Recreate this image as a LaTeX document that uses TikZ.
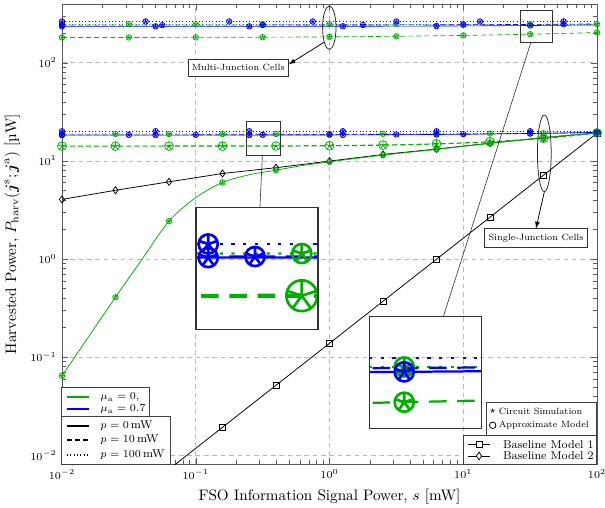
\documentclass[tikz,border=0pt]{standalone}
\usepackage{amsmath}
\usepackage{amssymb}
\usepackage{graphicx}
\usepackage{xcolor}
\usepackage{tikz}
\usetikzlibrary{positioning}
\usetikzlibrary{calc}
\usetikzlibrary{spy}
\usetikzlibrary{shapes.geometric}
\usepackage{pgfplots}
\pgfplotsset{compat=1.18}

\definecolor{mgreen}{RGB}{0,175,0}
\definecolor{mblue}{RGB}{0,0,255}
\newlength{\pxu}
\setlength{\pxu}{0.658pt}
\newcommand{\notefont}[1]{\scalebox{0.85}{\fontsize{7}{8}\selectfont #1}}

% circle with a star inside: approximate model over circuit simulation
\pgfdeclareplotmark{cstar}{%
    \pgfpathcircle{\pgfpointorigin}{\pgfplotmarksize}%
    \pgfusepathqstroke
    \pgfuseplotmark{star}%
}

\tikzset{
    legbox/.style = {draw=black!75, fill=white, line width=0.6pt},
    legtext/.style = {anchor=west, inner sep=0pt, font=\fontsize{7.5}{8.5}\selectfont},
    legline/.style = {line width=0.8pt},
    smalltext/.style = {anchor=west, inner sep=0pt},
    annot/.style = {draw=black!80, fill=white, line width=0.6pt, inner xsep=2.5pt, minimum height=14\pxu},
    cell ellipse/.style = {draw=black!85, ellipse, inner sep=0pt, line width=0.5pt}
}
\pgfplotsset{
    curve/.style = {no marks, line width=0.42pt},
    pzero line/.style = {solid},
    pten line/.style = {dash pattern=on 3.3pt off 2pt},
    phundred line/.style = {dash pattern=on 0.6pt off 1.6pt},
    sim marks/.style = {only marks, mark=cstar, mark size=1.8pt, mark options={solid, line width=0.5pt}}
}

\begin{document}
\begin{tikzpicture}[x=0.658pt, y=0.658pt,
    spy using outlines={rectangle, draw=black!80, line width=0.5pt, magnification=3.5, connect spies}]
    \useasboundingbox (0,0) rectangle (605,508);
    \begin{loglogaxis}[
        at={(62\pxu,44\pxu)}, anchor=south west,
        scale only axis, width=535\pxu, height=460\pxu,
        xmin=1e-2, xmax=1e2, ymin=0.008147, ymax=396.3,
        grid=major, major grid style={gray!55, dash pattern=on 3pt off 2.5pt},
        axis line style={black!65}, tick style={black!65},
        tick label style={font=\fontsize{7.3}{8}\selectfont},
        xlabel={FSO Information Signal Power, $s$ [mW]},
        ylabel={Harvested Power, $P_{\rm harv}(\boldsymbol{j}^{\rm s};\boldsymbol{j}^{\rm a})$ [\textmu W]},
        domain=-2:2, samples=41
    ]
        % baseline models
        \addplot[black, line width=0.5pt, mark=square, mark size=2pt, samples at={-1.2,-0.8,...,2.05}] ({10^x},{10^(-0.859+1.0705*x)});
        \addplot[black, line width=0.5pt, mark=diamond, mark size=2.3pt] table[x expr=10^(\thisrow{ls}), y expr=10^(\thisrow{lp})] {
            ls lp
            -2.0 0.607
            -1.6 0.700
            -1.2 0.786
            -0.8 0.871
            -0.4 0.930
            0.0 0.997
            0.4 1.065
            0.8 1.120
            1.2 1.180
            1.6 1.235
            2.0 1.285
        };

        % single-junction cells
        \addplot[mgreen, smooth, line width=0.5pt, mark=cstar, mark size=1.8pt, mark repeat=2, mark options={solid}] table[x expr=10^(\thisrow{ls}), y expr=10^(\thisrow{lp})] {
            ls lp
            -2.0 -1.19
            -1.8 -0.79
            -1.6 -0.39
            -1.4 0.00
            -1.2 0.386
            -1.0 0.625
            -0.8 0.780
            -0.6 0.858
            -0.4 0.905
            -0.2 0.952
            0.0 0.990
            0.2 1.025
            0.4 1.058
            0.6 1.088
            0.8 1.117
            1.0 1.148
            1.2 1.178
            1.4 1.208
            1.6 1.238
            1.8 1.262
            2.0 1.285
        };
        \addplot[mgreen, curve, pten line, line width=0.8pt] ({10^x},{10^(1.150+0.135*((x+2)/4)^5)});
        \addplot[mgreen, sim marks, mark size=2.9pt, samples at={-2,-1.6,...,2.05}] ({10^x},{10^(1.150+0.135*((x+2)/4)^5)});
        \addplot[mgreen, curve, phundred line] ({10^x},{10^(1.274+0.011*((x+2)/4)^4)});
        \addplot[mgreen, sim marks, samples at={-2,-1.6,...,2.05}] ({10^x},{10^(1.274+0.011*((x+2)/4)^4)});
        \addplot[mblue, curve, pzero line] ({10^x},{10^(1.262+0.028*((x+2)/4)^4)});
        \addplot[mblue, sim marks, samples at={-2,-1.3,...,2.05}] ({10^x},{10^(1.262+0.028*((x+2)/4)^4)});
        \addplot[mblue, curve, pten line] ({10^x},{10^(1.265+0.025*((x+2)/4)^4)});
        \addplot[mblue, sim marks, samples at={-2,-1.5,...,2.05}] ({10^x},{10^(1.265+0.025*((x+2)/4)^4)});
        \addplot[mblue, curve, phundred line] ({10^x},{10^1.302});
        \addplot[mblue, sim marks, samples at={-2,-1.3,...,2.05}] ({10^x},{10^1.302});

        % multi-junction cells
        \addplot[mgreen, curve, pten line] ({10^x},{10^(2.257+0.05*((x+2)/4)^3)});
        \addplot[mgreen, sim marks, samples at={-2,-1.5,...,2.05}] ({10^x},{10^(2.257+0.05*((x+2)/4)^3)});
        \addplot[mgreen, curve, phundred line] ({10^x},{10^2.393});
        \addplot[mgreen, sim marks, samples at={-2,-1.5,...,2.05}] ({10^x},{10^2.393});
        \addplot[mblue, curve, pzero line] ({10^x},{10^(2.370+0.015*((x+2)/4)^4)});
        \addplot[mblue, sim marks, samples at={-2,-1.3,...,2.05}] ({10^x},{10^(2.370+0.015*((x+2)/4)^4)});
        \addplot[mblue, curve, pten line] ({10^x},{10^(2.383+0.012*((x+2)/4)^4)});
        \addplot[mblue, sim marks, samples at={-2,-1.25,...,2.05}] ({10^x},{10^(2.383+0.012*((x+2)/4)^4)});
        \addplot[mblue, curve, phundred line] ({10^x},{10^2.420});
        \addplot[mblue, sim marks, samples at={-2,-1.375,...,2.05}] ({10^x},{10^2.420});
    \end{loglogaxis}

    % cell annotations
    \node[annot] (mjlbl) at (238.2,440.2) {\notefont{Multi-Junction Cells}};
    \node[cell ellipse, minimum width=13.4\pxu, minimum height=43.4\pxu] (mjell) at (329.3,480.3) {};
    \draw[-latex, line width=0.5pt] (mjell.250) -- ([yshift=3.5\pxu]mjlbl.east);
    \node[annot] (sjlbl) at (536,270) {\notefont{Single-Junction Cells}};
    \node[cell ellipse, minimum width=13.8\pxu, minimum height=76.7\pxu] (sjell) at (544.3,354.7) {};
    \draw[-latex, line width=0.5pt] (sjell.south) -- (sjlbl.north);

    % legends
    \draw[legbox] (61.7,91.3) rectangle (149.3,120.3);
    \path[fill=mgreen] (67,109.8) rectangle (89,111.6);
    \node[legtext] (muzero) at (100,110.7) {$\mu_{\rm a} = 0,$};
    \path[fill=mblue] (67,97.8) rectangle (89,99.6);
    \node[legtext] (museven) at (100,98.7) {$\mu_{\rm a} = 0.7$};

    \draw[legbox] (61.7,44) rectangle (170,91.3);
    \draw[black, legline] (67,82) -- (89,82);
    \node[legtext] (pzero) at (100,82) {$p = 0\,$mW};
    \draw[black, legline, dash pattern=on 3.3pt off 2pt] (67,68) -- (89,68);
    \node[legtext] (pten) at (100,68) {$p = 10\,$mW};
    \draw[black, legline, dash pattern=on 0.6pt off 1.6pt] (67,53) -- (89,53);
    \node[legtext] (phundred) at (100,53) {$p = 100\,$mW};

    \draw[legbox] (486,73) rectangle (596.7,105.7);
    \node[inner sep=0pt, font=\scriptsize] (simsym) at (492.7,96.5) {$\star$};
    \node[smalltext] (simtext) at (498.5,97) {\notefont{Circuit Simulation}};
    \node[draw, circle, minimum size=6.5\pxu, inner sep=0pt, line width=0.5pt] (modsym) at (492.7,82.7) {};
    \node[smalltext] (modtext) at (498.5,82.7) {\notefont{Approximate Model}};

    \draw[legbox] (463.3,44) rectangle (596.7,73);
    \draw[black, line width=0.5pt] (468.3,63.7) -- (490,63.7);
    \node[draw, fill=white, minimum size=6\pxu, inner sep=0pt, line width=0.5pt] (bmonemark) at (479,63.7) {};
    \node[legtext] (bmone) at (502.7,63.7) {Baseline Model 1};
    \draw[black, line width=0.5pt] (468.3,52) -- (490,52);
    \node[draw, diamond, fill=white, minimum width=5.5\pxu, minimum height=8\pxu, inner sep=0pt, line width=0.5pt] (bmtwomark) at (479,52) {};
    \node[legtext] (bmtwo) at (502.7,52) {Baseline Model 2};

    % zoomed views
    \spy[size=122\pxu] on (263.2,369.8) in node at (257,239.5);
    \spy[size=112\pxu] on (536.2,482.3) in node at (425.5,135.5);
\end{tikzpicture}
\end{document}
